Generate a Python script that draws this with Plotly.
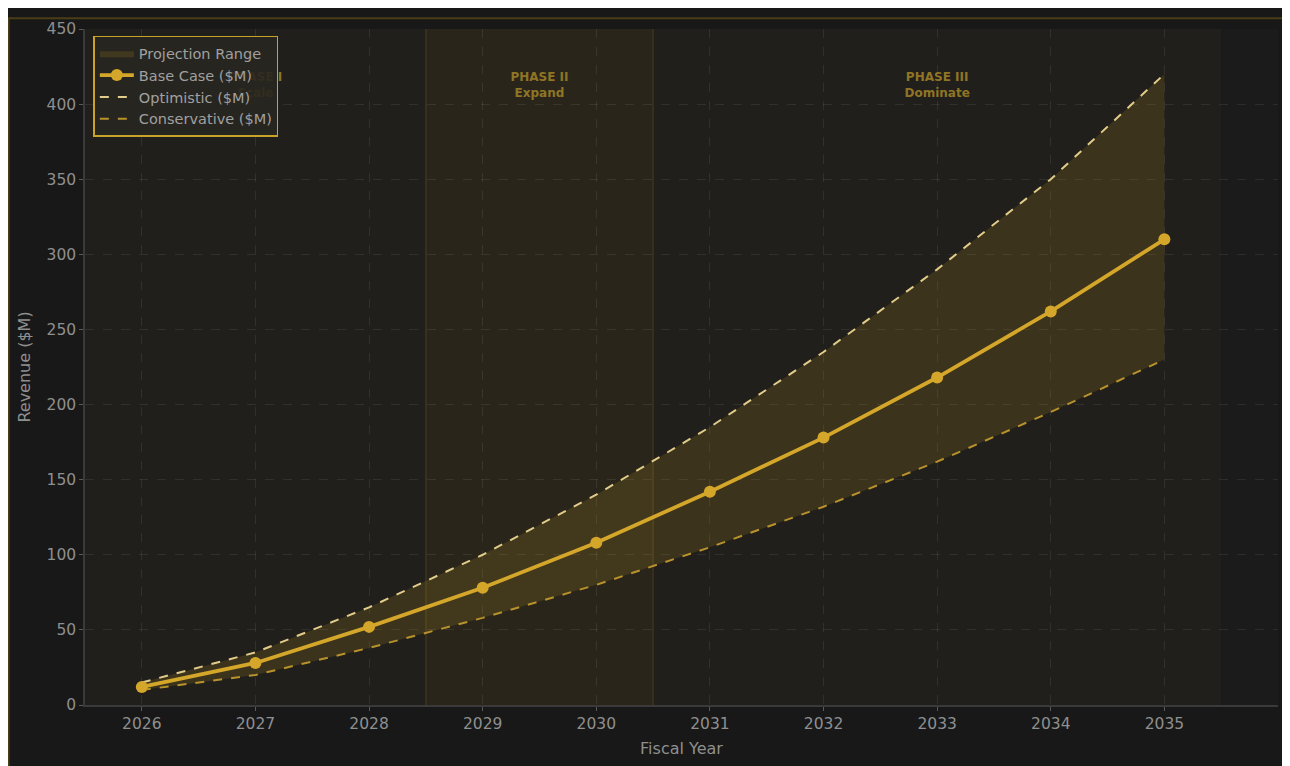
import plotly.graph_objects as go

# data
years = [2026, 2027, 2028, 2029, 2030, 2031, 2032, 2033, 2034, 2035]
base_case = [12, 28, 52, 78, 108, 142, 178, 218, 262, 310]
optimistic = [15, 35, 65, 100, 140, 185, 235, 290, 350, 420]
conservative = [10, 20, 38, 58, 80, 105, 132, 162, 195, 230]

phase_starts = [2025.5, 2028.5, 2030.5]
phase_ends = [2028.5, 2030.5, 2035.5]
phase_labels = ["<b>PHASE I</b><br><b>Scale</b>", "<b>PHASE II</b><br><b>Expand</b>", "<b>PHASE III</b><br><b>Dominate</b>"]
phase_label_x = [2027, 2029.5, 2033]
phase_label_y = [412, 412, 412]

# theme
GOLD = "#D4A62A"
PALE = "#E2CC8A"
DARK_GOLD = "#B8922A"
PAPER_BG = "#181818"
PLOT_BG = "#1b1b1b"
TEXT = "#8f8f8f"
FONT = "DejaVu Sans, sans-serif"

fig = go.Figure()

# range band
fig.add_trace(go.Scatter(x=years, y=conservative, mode="lines", line=dict(width=0),
                         showlegend=False, hoverinfo="skip"))
fig.add_trace(go.Scatter(x=years, y=optimistic, mode="lines", line=dict(width=0),
                         fill="tonexty", fillcolor="rgba(212,166,42,0.15)",
                         name="Projection Range", legendrank=1))

fig.add_trace(go.Scatter(x=years, y=optimistic, mode="lines", name="Optimistic ($M)",
                         line=dict(color=PALE, width=2, dash="dash"), legendrank=3))
fig.add_trace(go.Scatter(x=years, y=conservative, mode="lines", name="Conservative ($M)",
                         line=dict(color=DARK_GOLD, width=2, dash="dash"), legendrank=4))
fig.add_trace(go.Scatter(x=years, y=base_case, mode="lines+markers", name="Base Case ($M)",
                         line=dict(color=GOLD, width=3.8), marker=dict(size=12, color=GOLD),
                         legendrank=2))

# phase labels (sit under the legend like the original)
fig.add_trace(go.Scatter(x=phase_label_x, y=phase_label_y, mode="text", text=phase_labels,
                         textfont=dict(color="#8f7524", size=12, family=FONT),
                         showlegend=False, hoverinfo="skip"))

# phase shading
shade = ["rgba(212,166,42,0.03)", "rgba(212,166,42,0.08)", "rgba(212,166,42,0.03)"]
for x0, x1, c in zip(phase_starts, phase_ends, shade):
    fig.add_shape(type="rect", xref="x", yref="paper", x0=x0, x1=x1, y0=0, y1=1,
                  fillcolor=c, line=dict(width=0), layer="below")
for xv in phase_starts[1:]:
    fig.add_shape(type="line", xref="x", yref="paper", x0=xv, x1=xv, y0=0, y1=1,
                  line=dict(color="rgba(212,166,42,0.22)", width=1), layer="below")

# outer border
fig.add_shape(type="rect", xref="paper", yref="paper", x0=-0.064, x1=1.015, y0=-0.1, y1=1.016,
              line=dict(color="#4a3d17", width=2), fillcolor="rgba(0,0,0,0)")

fig.update_layout(
    width=1290, height=766,
    paper_bgcolor=PAPER_BG, plot_bgcolor=PLOT_BG,
    margin=dict(l=77, r=20, t=12, b=69),
    font=dict(family=FONT, color=TEXT, size=13),
    legend=dict(x=0.007, y=0.99, xanchor="left", yanchor="top", traceorder="normal",
                bgcolor="rgba(40,38,32,0.9)", bordercolor="#C9A227", borderwidth=1.5,
                font=dict(size=14.5, color="#a0a0a0"), tracegroupgap=0, itemwidth=34),
    showlegend=True,
)
fig.update_xaxes(range=[2025.5, 2036], tickvals=years, showgrid=True,
                 gridcolor="rgba(255,255,255,0.08)", griddash="dash", gridwidth=1,
                 showline=True, linecolor="#3a3a3a", linewidth=1.5, zeroline=False,
                 ticks="outside", ticklen=4, tickcolor="#5a5a5a",
                 tickfont=dict(size=15.5, color=TEXT),
                 title=dict(text="Fiscal Year", font=dict(size=16, color=TEXT), standoff=10))
fig.update_yaxes(range=[0, 450], dtick=50, showgrid=True,
                 gridcolor="rgba(255,255,255,0.08)", griddash="dash", gridwidth=1,
                 showline=True, linecolor="#3a3a3a", linewidth=1.5, zeroline=False,
                 ticks="outside", ticklen=4, tickcolor="#5a5a5a",
                 tickfont=dict(size=15.5, color=TEXT),
                 title=dict(text="Revenue ($M)", font=dict(size=16, color=TEXT), standoff=12))

fig.write_html("out.html")
